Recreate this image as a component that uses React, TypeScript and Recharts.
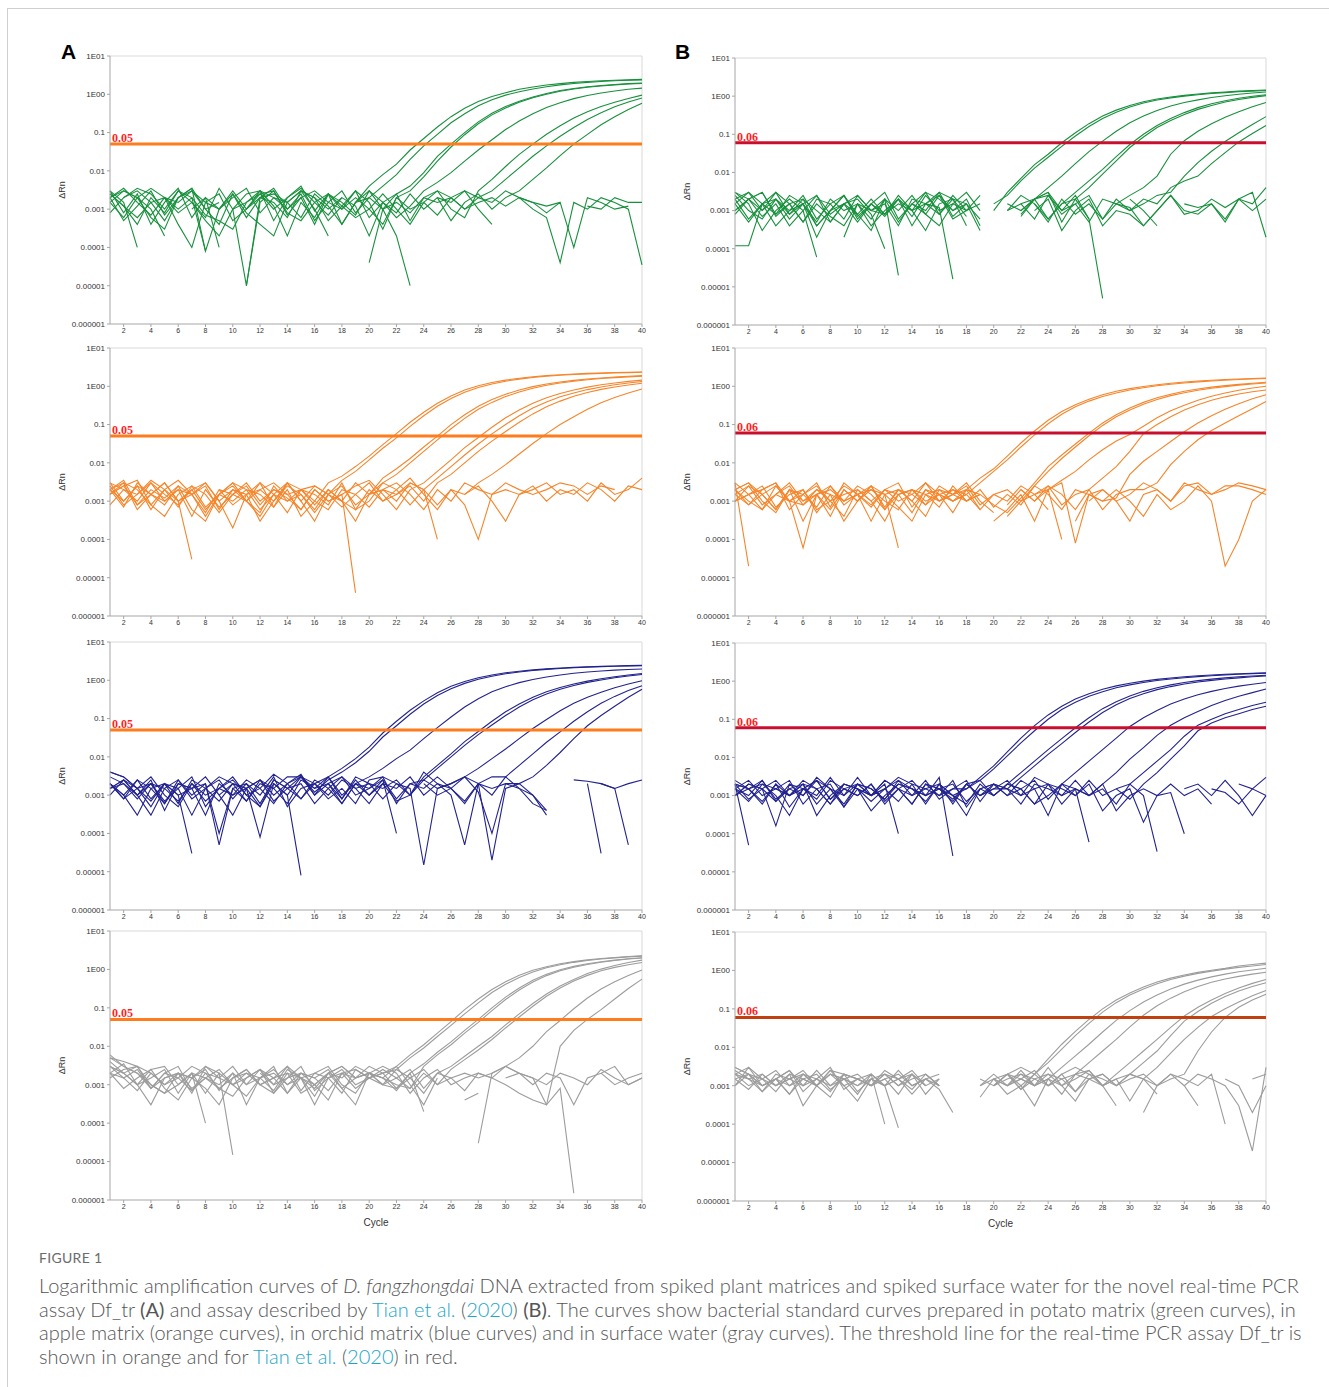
import React from "react";
import { LineChart, Line, XAxis, YAxis, ReferenceLine } from "recharts";

type Curve = (number | null)[];

const cycles = [1, 2, 3, 4, 5, 6, 7, 8, 9, 10, 11, 12, 13, 14, 15, 16, 17, 18, 19, 20, 21, 22, 23, 24, 25, 26, 27, 28, 29, 30, 31, 32, 33, 34, 35, 36, 37, 38, 39, 40];
const xTicks = [2, 4, 6, 8, 10, 12, 14, 16, 18, 20, 22, 24, 26, 28, 30, 32, 34, 36, 38, 40];
const yTicks = [1e-6, 1e-5, 1e-4, 1e-3, 0.01, 0.1, 1, 10];
const yTickLabels = ["0.000001", "0.00001", "0.0001", "0.001", "0.01", "0.1", "1E00", "1E01"];

const thresholdA = 0.05;
const thresholdB = 0.06;

// potato matrix, assay Df_tr
const greenA: Curve[] = [
  [3e-3, 8e-4, 2.5e-3, 4e-4, 1.5e-3, 3.5e-3, 6e-4, 2e-3, 1e-3, 3e-3, 1e-3, 3e-3, 5e-4, 2e-3, 4e-3, 9e-4, 2.5e-3, 4e-4, 1.5e-3, 4e-3, 8e-3, .015, .035, .07, .14, .26, .43, .65, .88, 1.1, 1.35, 1.55, 1.75, 1.9, 2.05, 2.15, 2.25, 2.32, 2.38, 2.45],
  [2e-3, 5e-4, 1.2e-3, 3e-3, 7e-4, 2e-3, 3.5e-3, 1e-3, 4e-4, 2.5e-3, 6e-4, 2e-3, 3.5e-3, 1e-3, 2.5e-3, 5e-4, 1.5e-3, 3e-3, 8e-4, 2e-3, 4e-3, 8e-3, .02, .045, .09, .18, .31, .5, .72, .95, 1.17, 1.38, 1.58, 1.76, 1.92, 2.05, 2.16, 2.25, 2.32, 2.38],
  [2.5e-3, 1.2e-3, 4e-4, 2e-3, 8e-4, 3e-3, 1.5e-3, 6e-4, 3.5e-3, 1e-3, 1e-5, 1.5e-3, 3e-3, 7e-4, 2e-3, 4e-4, 2.5e-3, 1e-3, 3e-3, 6e-4, 1.5e-3, 2.5e-3, 4e-3, 9e-3, .024, .05, .1, .19, .32, .48, .66, .85, 1.05, 1.25, 1.42, 1.57, 1.7, 1.8, 1.9, 1.97],
  [1.5e-3, 3e-3, 2e-3, 6e-4, 3e-4, 2e-3, 3.5e-3, 8e-5, 1e-3, 2.5e-3, 8e-4, 4e-4, 2e-4, 1.5e-3, 3e-3, 2e-3, 5e-4, 1.2e-3, 3e-3, 1.5e-3, 3e-4, 2e-3, 3e-3, 7e-3, .018, .042, .088, .17, .29, .44, .62, .81, 1.0, 1.2, 1.37, 1.52, 1.65, 1.76, 1.85, 1.92],
  [1.5e-3, 6e-4, 2e-3, 3.5e-3, 2e-3, 8e-4, 1.5e-3, 5e-4, 2e-4, 1e-3, 2.5e-3, 3e-3, 1.2e-3, 2e-4, 1.5e-3, 6e-4, 2.5e-3, 1.5e-3, 7e-4, 3e-3, 1.5e-3, 6e-4, 1.2e-3, 3e-3, 5e-3, .009, .018, .035, .065, .12, .2, .31, .45, .6, .77, .93, 1.08, 1.22, 1.35, 1.45],
  [2e-3, 3.5e-3, 1.5e-3, 7e-4, 2e-3, 4e-4, 1e-4, 1.5e-3, 1e-3, 2e-3, 3.5e-3, 8e-4, 2e-3, 1.5e-3, 6e-4, 2.5e-3, 1.2e-3, 4e-4, 1.5e-3, 3e-3, 1e-3, 2.5e-3, 5e-4, 2e-3, 3e-3, 1e-3, 6e-4, 3e-3, 6e-3, .013, .027, .05, .09, .15, .24, .35, .48, .62, .78, .95],
  [8e-4, 2e-3, 3.5e-3, 2.5e-3, 1e-3, 3e-3, 2e-3, 7e-4, 5e-4, 3e-4, 1.5e-3, 2.5e-3, 3e-3, 8e-4, 5e-4, 1.5e-3, 2.5e-3, 1.2e-3, 6e-4, 1e-3, 2.5e-3, 1e-3, 4e-4, 1.5e-3, 7e-4, 2e-3, 3e-3, 2e-3, 3e-3, 6e-3, .012, .024, .045, .08, .135, .22, .33, .47, .63, .8],
  [2.5e-3, 1.2e-3, 6e-4, 1.5e-3, 5e-4, 2e-3, 3e-3, 1.5e-3, 2.5e-3, 5e-4, 1e-3, 2.5e-3, 1e-3, 2e-3, 3.5e-3, 1.5e-3, 7e-4, 2e-3, 1.2e-3, 2e-4, 1.5e-3, 8e-4, 2.5e-3, 1e-3, 2e-3, 5e-4, 1.5e-3, 2.5e-3, 1e-3, 2e-3, 3e-3, 6e-3, .012, .025, .05, .09, .16, .26, .4, .58],
  [3e-3, 1.5e-3, 1e-4, null, 2e-3, 1.5e-3, 3e-3, 1e-3, 1.5e-3, null, 1e-5, 2e-3, 1.5e-3, 6e-4, 3e-3, 2e-3, 1e-3, 2e-3, null, 4e-5, 1e-3, 1.5e-3, 8e-4, 2e-3, 1.5e-3, 2e-3, 1e-3, 1.5e-3, 2e-3, 1.2e-3, 2e-3, 1e-3, 6e-4, 4e-5, 1.5e-3, 1e-3, 2e-3, 1.5e-3, 1e-3, 3.5e-5],
  [2e-3, 3e-3, 2e-3, 1e-3, 2e-4, null, 1e-3, 2e-3, 1e-4, null, 1e-3, 2e-3, 2.5e-3, 1.5e-3, 3e-3, 1e-3, 2e-4, null, 1.5e-3, 2e-3, 1e-3, 2e-4, 1e-5, null, 2e-3, 1.5e-3, 3e-3, 1e-3, 4e-4, null, 2e-3, 1.5e-3, 1.2e-3, 1.5e-3, null, 1.2e-3, 1e-3, 2e-3, 1.5e-3, 1.5e-3],
  [null, 2e-3, 3e-3, 1.5e-3, 2e-3, 1e-3, 2e-3, 8e-5, null, 1e-3, 1.5e-3, 3e-3, 2e-3, 1e-3, 2e-3, 3e-3, 1.5e-3, 1e-3, 2e-3, 1e-3, 4e-4, 2e-3, 1e-3, 1.5e-3, 3e-3, 2e-3, 1e-3, 2e-3, 1.5e-3, 3e-3, 2e-3, 1.5e-3, 8e-4, 1.5e-3, 1e-4, 2e-3, 1.5e-3, 1e-3, 1.2e-3, null],
];

// apple matrix, assay Df_tr
const orangeA: Curve[] = [
  [3e-3, 1e-3, 2.5e-3, 6e-4, 2e-3, 3.5e-3, 1.5e-3, 5e-4, 2e-3, 8e-4, 1.5e-3, 3e-3, 7e-4, 2e-3, 4e-4, 1e-3, 3e-3, 4.5e-3, 8e-3, .015, .03, .058, .115, .21, .36, .56, .8, 1.03, 1.25, 1.45, 1.62, 1.77, 1.9, 2.0, 2.09, 2.17, 2.23, 2.29, 2.33, 2.37],
  [2e-3, 3.5e-3, 8e-4, 2e-3, 1.2e-3, 2.5e-3, 6e-4, 3e-4, 1.5e-3, 3e-3, 1e-3, 5e-4, 2.5e-3, 1e-3, 1.5e-3, 5e-4, 1.5e-3, 3.5e-3, 6e-3, .012, .024, .045, .09, .17, .3, .48, .7, .93, 1.15, 1.36, 1.54, 1.7, 1.83, 1.94, 2.03, 2.11, 2.18, 2.24, 2.28, 2.32],
  [1.5e-3, 2.5e-3, 3.5e-3, 8e-4, 4e-4, 1.5e-3, 2.5e-3, 7e-4, 1.5e-3, 3e-3, 2e-3, 6e-4, 1.5e-3, 3e-3, 1e-3, 3e-4, 1.5e-3, 2.5e-3, 8e-4, 1.5e-3, 4e-3, 7e-3, .013, .026, .05, .1, .18, .3, .45, .62, .8, .98, 1.15, 1.3, 1.43, 1.55, 1.65, 1.75, 1.83, 1.9],
  [2.5e-3, 8e-4, 1.5e-3, 3e-3, 1e-3, 2e-3, 4e-4, 2e-3, 7e-4, 1.5e-3, 1e-3, 3e-3, 1.5e-3, 5e-4, 2e-3, 1.5e-3, 8e-4, 3e-3, 6e-4, 1e-3, 3e-3, 5e-3, .01, .02, .04, .078, .145, .25, .38, .54, .71, .89, 1.06, 1.22, 1.36, 1.48, 1.59, 1.68, 1.76, 1.83],
  [8e-4, 2e-3, 1.5e-3, 3.5e-3, 2e-3, 7e-4, 2.5e-3, 1.5e-3, 5e-4, 1.5e-3, 2.5e-3, 8e-4, 2e-3, 1.2e-3, 6e-4, 2e-3, 1e-3, 1.5e-3, 2.5e-3, 3.5e-3, 1.5e-3, 6e-4, 2e-3, 3e-3, 6e-3, .012, .025, .046, .085, .15, .24, .36, .5, .65, .8, .95, 1.1, 1.22, 1.34, 1.45],
  [2e-3, 7e-4, 3e-3, 1.5e-3, 8e-4, 2.5e-3, 1.5e-3, 3e-3, 1e-3, 2e-3, 1.5e-3, 3e-4, 1e-3, 2.5e-3, 1.5e-3, 6e-4, 2e-3, 1e-3, 3e-3, 1.5e-3, 3e-3, 2e-3, 8e-4, 2e-3, 4e-3, 8e-3, .016, .031, .057, .1, .17, .27, .39, .53, .67, .82, .96, 1.1, 1.22, 1.33],
  [1.5e-3, 2.5e-3, 8e-4, 1.5e-3, 3e-3, 1e-3, 2e-3, 6e-4, 1.5e-3, 1e-3, 2e-3, 1.5e-3, 7e-4, 3e-3, 1e-3, 2.5e-3, 1.5e-3, 1e-3, 6e-4, 2e-3, 1e-3, 1.5e-3, 2.5e-3, 1e-3, 3e-3, 5e-3, .01, .02, .037, .066, .115, .19, .29, .41, .55, .69, .83, .96, 1.08, 1.2],
  [2e-3, 3e-3, 2e-3, 8e-4, 2e-3, 1e-3, 1.5e-3, 2.5e-3, 6e-4, 2e-3, 1e-3, 2e-3, 3e-3, 1.5e-3, 2e-3, 1e-3, 6e-4, 2e-3, 1.5e-3, 7e-4, 2e-3, 1.5e-3, 3e-3, 2e-3, 8e-4, 2e-3, 1.5e-3, 3e-3, 5e-3, .009, .017, .032, .058, .1, .16, .25, .37, .51, .67, .85],
  [2e-3, 1e-3, 2.5e-3, 1.5e-3, 3e-3, 1e-3, 3e-5, null, 2e-3, 1.5e-3, 3e-3, 1e-3, 2e-3, 1.5e-3, 6e-4, 2e-3, 1e-3, 1.5e-3, 4e-6, null, 2e-3, 3e-3, 1.5e-3, 6e-4, 2e-3, 1e-3, 3e-3, 2e-3, 1.5e-3, 3e-3, 2e-3, 1.5e-3, 2e-3, 3e-3, 2.5e-3, 1.5e-3, 2.5e-3, 2e-3, null, null],
  [3e-3, 2e-3, 1e-3, 3e-3, 1.5e-3, 8e-4, 2e-3, 3e-3, 1e-3, 2e-4, 1.5e-3, 2e-3, 1e-3, 3e-3, 2e-3, 8e-4, 2e-3, 1e-3, 3e-4, 1.5e-3, 2e-3, 1e-3, 3e-3, 2e-3, 1e-4, null, 1.5e-3, 2.5e-3, 1e-3, 3e-4, 1.5e-3, 2e-3, 3e-3, 1.5e-3, 2e-3, 1e-3, 3e-3, 1.5e-3, 2e-3, 4e-3],
  [1.5e-3, 3e-3, 6e-4, 1.5e-3, 1e-3, 2e-3, 1.5e-3, 4e-4, 1.5e-3, 2.5e-3, 1e-3, 4e-4, 1.5e-3, 1e-3, 2e-3, 2.5e-3, 1.5e-3, 7e-4, 1.5e-3, 3e-3, 1e-3, 2e-3, 4e-3, 1.5e-3, 6e-4, 2e-3, 8e-4, 1e-4, 1.5e-3, 2e-3, 1.5e-3, 2.5e-3, 1e-3, 2e-3, 1.5e-3, 3e-3, 2e-3, 1e-3, 2.5e-3, 2e-3],
];

// orchid matrix, assay Df_tr
const blueA: Curve[] = [
  [4e-3, 3e-3, 1.5e-3, 7e-4, 2e-3, 1.5e-3, 3e-4, 1.5e-3, 2.5e-3, 8e-4, 2e-3, 6e-4, 2.5e-3, 1.5e-3, 3e-3, 1e-3, 3e-3, 5e-3, 9e-3, .018, .042, .085, .165, .29, .47, .7, .93, 1.16, 1.38, 1.57, 1.73, 1.87, 1.99, 2.09, 2.18, 2.25, 2.31, 2.37, 2.41, 2.45],
  [3e-3, 2e-3, 8e-4, 2e-3, 6e-4, 2.5e-3, 1e-3, 2e-3, 1e-4, 1.5e-3, 7e-4, 2.5e-3, 1.5e-3, 3e-3, 3e-3, 1.2e-3, 2.5e-3, 4e-3, 7e-3, .014, .033, .065, .13, .24, .4, .6, .83, 1.06, 1.28, 1.48, 1.65, 1.8, 1.93, 2.04, 2.13, 2.21, 2.27, 2.33, 2.38, 2.42],
  [2e-3, 8e-4, 1.5e-3, 3e-3, 1e-3, 5e-4, 2e-3, 7e-4, 1.5e-3, 2.5e-3, 1e-3, 1.5e-3, 3.5e-3, 2e-3, 8e-4, 2.5e-3, 1.5e-3, 6e-4, 2e-3, 3e-3, 5e-3, 9e-3, .015, .03, .058, .11, .2, .33, .5, .68, .87, 1.05, 1.22, 1.38, 1.52, 1.64, 1.75, 1.84, 1.92, 1.98],
  [1.5e-3, 2.5e-3, 1e-3, 3e-4, 1.5e-3, 2.5e-3, 8e-4, 1.5e-3, 3e-3, 2e-3, 7e-4, 2e-3, 1.5e-3, 6e-4, 2.5e-3, 1.5e-3, 3e-3, 8e-4, 3e-3, 2e-3, 1.5e-3, 2.5e-3, 1e-3, 3e-3, 6e-3, .012, .025, .046, .085, .15, .24, .36, .5, .65, .8, .95, 1.1, 1.24, 1.37, 1.5],
  [2e-3, 1e-3, 2.5e-3, 8e-4, 2e-3, 6e-4, 2.5e-3, 1.5e-3, 7e-4, 2e-3, 1.5e-3, 5e-4, 2e-3, 1e-3, 3e-3, 2e-3, 8e-4, 1.5e-3, 6e-4, 2.5e-3, 3e-3, 6e-4, 2e-3, 2.5e-3, 5e-3, .01, .02, .038, .068, .12, .2, .31, .44, .58, .73, .88, 1.02, 1.16, 1.29, 1.42],
  [1e-3, 2.5e-3, 1.5e-3, 2e-3, 7e-4, 1.5e-3, 3e-3, 5e-4, 1.5e-3, 1e-3, 2.5e-3, 1.5e-3, 6e-4, 2e-3, 3.5e-3, 1e-3, 2e-3, 8e-4, 2.5e-3, 1e-3, 2e-3, 7e-4, 1e-3, 2.5e-3, 1.5e-3, 2e-3, 3e-3, 5e-3, 9e-3, .016, .03, .055, .095, .16, .25, .36, .49, .64, .8, .97],
  [2e-3, 8e-4, 2.5e-3, 1.5e-3, 6e-4, 2e-3, 1.5e-3, 3e-3, 1e-3, 3e-4, 1.5e-3, 2.5e-3, 7e-4, 1.5e-3, 2e-3, 6e-4, 1.5e-3, 3e-3, 1e-3, 1.5e-3, 2.5e-3, 8e-4, 2e-3, 1.5e-3, 3e-3, 1.5e-3, 6e-4, 2e-3, 3e-3, 3e-3, 6e-3, .012, .024, .045, .085, .15, .25, .38, .54, .72],
  [1.5e-3, 2.5e-3, 1e-3, 2e-3, 1.5e-3, 7e-4, 2e-3, 1e-3, 1.5e-3, 3e-3, 1e-3, 5e-4, 2.5e-3, 1.5e-3, 8e-4, 2e-3, 1e-3, 2.5e-3, 1.5e-3, 6e-4, 2e-3, 1.5e-3, 3e-3, 1e-3, 2e-3, 1.5e-3, 7e-4, 2e-3, 1.5e-3, 2e-3, 2e-3, 3e-3, 6e-3, .013, .03, .065, .12, .21, .36, .58],
  [4e-3, 3e-3, 1.5e-3, 5e-4, 2e-3, 1e-3, 1.5e-3, 3e-4, 2e-3, 1e-3, 1.5e-3, 8e-5, 2e-3, 1e-3, 8e-6, null, 2e-3, 3e-3, 1.5e-3, 2e-3, 8e-4, 2e-3, 1.5e-3, 1.5e-5, 1.5e-3, 2e-3, 3e-3, 2e-3, 2e-5, 1.5e-3, 2e-3, 1e-3, 4e-4, null, null, 2e-3, 3e-5, null, 2.5e-3, null],
  [2e-3, 1e-3, 3e-4, 1.5e-3, 2e-3, 1e-3, 3e-5, null, 1e-3, 2e-3, 1.5e-3, 2.5e-3, 1e-3, 2e-3, 3e-3, 1.5e-3, 2e-3, 6e-4, 2e-3, 1e-3, 2.5e-3, 1e-4, null, 2e-3, 1e-3, 1.5e-3, 3e-3, 1.2e-3, 1e-4, 2e-3, 1.5e-3, 6e-4, 4e-4, null, 2.5e-3, 2.3e-3, 2e-3, 1.5e-3, 2e-3, 2.5e-3],
  [1.5e-3, 2e-3, 1e-3, 2.5e-3, 4e-4, 2e-3, 1.5e-3, 2e-3, 5e-5, 1.5e-3, 2e-3, 1e-3, 3e-3, 5e-4, 1.5e-3, 2e-3, 3e-3, 1e-3, 2e-3, 1.5e-3, 3e-3, 2e-3, 1e-3, 4e-3, 2e-3, 1e-3, 5e-5, 2e-3, 1e-3, 3e-3, 1.5e-3, 1e-3, 3e-4, null, null, null, 2e-3, 1.5e-3, 5e-5, null],
];

// surface water, assay Df_tr
const grayA: Curve[] = [
  [5e-3, 3e-3, 2e-3, 8e-4, 2e-3, 3e-3, 7e-4, 1.5e-3, 2.5e-3, 1e-3, 1.5e-3, 2.5e-3, 6e-4, 2e-3, 1.5e-3, 8e-4, 2e-3, 3e-3, 1.5e-3, 2e-3, 1.5e-3, 3e-3, 6e-3, .011, .022, .044, .09, .17, .3, .48, .71, .95, 1.18, 1.4, 1.6, 1.77, 1.92, 2.05, 2.16, 2.25],
  [4e-3, 2e-3, 3e-3, 1e-3, 6e-4, 2e-3, 1.5e-3, 8e-4, 3e-4, 1.5e-3, 2.5e-3, 1e-3, 1.5e-3, 3e-3, 7e-4, 2e-3, 1.5e-3, 6e-4, 2.5e-3, 1.5e-3, 2e-3, 2.5e-3, 5e-3, 9e-3, .018, .035, .07, .135, .25, .41, .62, .86, 1.1, 1.32, 1.53, 1.71, 1.87, 2.0, 2.12, 2.22],
  [3e-3, 2e-3, 1e-3, 2.5e-3, 8e-4, 4e-4, 1.5e-3, 2.5e-3, 7e-4, 2e-3, 1e-3, 1.5e-3, 3e-3, 6e-4, 1.5e-3, 2e-3, 3e-3, 1e-3, 6e-4, 2e-3, 1.5e-3, 7e-4, 2e-3, 3.5e-3, 7e-3, .013, .026, .05, .1, .19, .33, .52, .75, .98, 1.2, 1.4, 1.58, 1.75, 1.9, 2.02],
  [2e-3, 3.5e-3, 1e-3, 1.5e-3, 2.5e-3, 6e-4, 2e-3, 1.5e-3, 8e-4, 5e-4, 1.5e-3, 2.5e-3, 1e-3, 1.5e-3, 3e-3, 7e-4, 1.5e-3, 2.5e-3, 1e-3, 1.5e-3, 2.5e-3, 1.5e-3, 8e-4, 3e-3, 6e-3, .011, .022, .042, .085, .165, .29, .47, .69, .92, 1.14, 1.35, 1.54, 1.71, 1.86, 1.99],
  [3e-3, 1.5e-3, 2.5e-3, 8e-4, 1.5e-3, 2e-3, 6e-4, 3e-3, 1.5e-3, 1e-3, 2e-3, 1.5e-3, 7e-4, 2.5e-3, 1.5e-3, 3e-4, 1.5e-3, 2e-3, 8e-4, 1.5e-3, 1e-3, 2.5e-3, 1.5e-3, 6e-4, 2e-3, 3e-3, 5.5e-3, .01, .018, .036, .07, .13, .23, .37, .55, .78, 1.02, 1.27, 1.52, 1.75],
  [2e-3, 8e-4, 1.5e-3, 2.5e-3, 3e-3, 1e-3, 2e-3, 6e-4, 2e-3, 1e-3, 5e-4, 1.5e-3, 2.5e-3, 1e-3, 2e-3, 1.5e-3, 7e-4, 2e-3, 1.5e-3, 3e-3, 2e-3, 8e-4, 1.5e-3, 2.5e-3, 1e-3, 2.5e-3, 4.5e-3, 8e-3, .015, .03, .058, .11, .2, .33, .5, .7, .92, 1.13, 1.33, 1.52],
  [1.5e-3, 2.5e-3, 3e-3, 8e-4, 2e-3, 1.5e-3, 7e-4, 2e-3, 1.5e-3, 3e-3, 1e-3, 2.5e-3, 1.5e-3, 6e-4, 2e-3, 1.5e-3, 2.5e-3, 8e-4, 1.5e-3, 2e-3, 3e-3, 2e-3, 6e-4, 1.5e-3, 2.5e-3, 1e-3, 1.5e-3, 2e-3, 1.5e-3, 3e-3, 5e-3, .01, .024, .047, .095, .18, .31, .48, .7, .97],
  [2e-3, 1.5e-3, 7e-4, 2e-3, 1e-3, 1.5e-3, 3e-3, 2e-3, 8e-4, 1.5e-3, 2.5e-3, 1e-3, 1.5e-3, 2e-3, 6e-4, 1e-3, 2e-3, 1.5e-3, 3e-3, 2e-3, 1e-3, 1.5e-3, 2.5e-3, 8e-4, 2e-3, 1.5e-3, 7e-4, 2e-3, 1.5e-3, 1e-3, 6e-4, 4e-4, 3e-4, .01, .026, .05, .09, .17, .32, .56],
  [5e-3, 4e-3, 3e-3, 2e-3, 1e-3, 2e-3, 1.5e-3, 3e-3, 2e-3, 1.5e-5, null, 2e-3, 1e-3, 3e-3, 1.5e-3, 1e-3, 2e-3, 8e-4, 3e-4, 2e-3, 1.5e-3, 1e-3, 8e-4, 2e-3, 1e-3, 1.5e-3, null, 3e-5, 2e-3, 3e-3, 2e-3, 1.5e-3, 3e-4, 8e-4, 1.5e-6, null, 2e-3, 1e-3, 1.5e-3, 2e-3],
  [3e-3, 2e-3, 1e-3, 3e-4, 1.5e-3, 2e-3, 8e-4, 1.5e-3, 1e-3, 2e-3, 3e-4, 1.5e-3, 2e-3, 1e-3, 1.5e-3, 5e-4, 2e-3, 3e-3, 1.5e-3, 2e-3, 1e-3, 8e-4, 2e-3, 2e-4, null, 1.5e-3, 2e-3, 1.5e-3, 2e-3, 3e-3, 2e-3, 1.5e-3, 1e-3, 2e-3, 1.5e-3, 1e-3, 2.5e-3, 1.5e-3, 1e-3, 1.5e-3],
  [6e-3, 3e-3, 2e-3, 1e-3, 6e-4, 1e-3, 2e-3, 1e-4, null, 1.5e-3, 2e-3, 1e-3, 6e-4, 1.5e-3, 2e-3, 1e-3, 4e-4, 2e-3, 2.5e-3, 1.5e-3, 2e-3, 3e-3, 1e-3, 3e-4, 1.5e-3, null, 4e-4, 6e-4, null, 1.5e-3, 2e-3, 1e-3, 2e-3, 1.5e-3, 3e-4, 1.5e-3, 2e-3, 3e-3, 1e-3, 1.5e-3],
];

// potato matrix, Tian et al. (2020)
const greenB: Curve[] = [
  [3e-3, 2e-3, 7e-4, 1.5e-3, 4e-4, 1e-3, 2.5e-3, 5e-4, 1.5e-3, 8e-4, 2e-3, 8e-4, 2e-3, 4e-4, 1.5e-3, 3e-3, 7e-4, 1.5e-3, null, 1e-3, 3e-3, 7e-3, .016, .03, .06, .11, .19, .3, .43, .57, .71, .84, .95, 1.05, 1.14, 1.22, 1.29, 1.35, 1.4, 1.45],
  [2e-3, 3e-3, 1.5e-3, 4e-4, 1e-3, 2.5e-3, 6e-4, 1.5e-3, 2.5e-3, 8e-4, 3e-4, 2e-3, 5e-4, 1.5e-3, 3e-3, 8e-4, 2e-3, 4e-4, null, 1.5e-3, 2.5e-3, 6e-3, .013, .025, .048, .09, .16, .26, .38, .52, .66, .79, .9, 1.0, 1.09, 1.17, 1.24, 1.3, 1.35, 1.4],
  [1.5e-3, 5e-4, 1.5e-3, 3e-3, 8e-4, 2e-3, 4e-4, 1e-3, 2.5e-3, 6e-4, 1.5e-3, 8e-4, 2.5e-3, 1e-3, 3e-4, 1.5e-3, 2e-3, 7e-4, null, null, 1e-3, 1.5e-3, 2e-3, 4e-3, 8e-3, .017, .035, .066, .12, .2, .3, .42, .55, .68, .8, .92, 1.02, 1.12, 1.21, 1.29],
  [2.5e-3, 1e-3, 6e-4, 2e-3, 8e-4, 1.5e-3, 4e-4, 1e-3, 2.5e-3, 7e-4, 1.5e-3, 3e-3, 6e-4, 1.5e-3, 8e-4, 2.5e-3, 1e-3, 1.5e-3, 6e-4, null, null, 8e-4, 2e-3, 6e-4, 1.5e-3, 3e-3, 6e-3, .012, .026, .054, .1, .17, .26, .37, .5, .63, .76, .88, .99, 1.09],
  [8e-4, 2e-3, 1e-3, 3e-3, 1.5e-3, 5e-4, 1.5e-3, 7e-4, 4e-4, 1.5e-3, 6e-4, 2e-3, 1e-3, 2.5e-3, 8e-4, 4e-4, 1.5e-3, 1e-3, 2.5e-3, null, null, null, 1.5e-3, 6e-4, 1.5e-3, 2e-3, 4e-3, 9e-3, .02, .045, .085, .15, .23, .33, .45, .57, .7, .82, .93, 1.03],
  [2e-3, 6e-4, 1.5e-3, 8e-4, 2.5e-3, 1.5e-3, 5e-4, 2e-3, 1e-3, 1.5e-3, 4e-4, 1e-3, 2e-3, 7e-4, 2.5e-3, 1e-3, 1.5e-3, 3e-3, 1e-3, null, null, 1.5e-3, 6e-4, 2.5e-3, 1e-3, 1.5e-3, 5e-4, 2e-3, 1.5e-3, 2.5e-3, 4e-3, 8e-3, .03, .068, .12, .19, .28, .39, .53, .68],
  [1.5e-3, 3e-3, 1e-3, 2e-3, 6e-4, 1.5e-3, 2.5e-3, 8e-4, 1.5e-3, 5e-4, 1.5e-3, 7e-4, 2e-3, 1e-3, 1.5e-3, 2.5e-3, 6e-4, 1e-3, null, null, 1e-3, 2.5e-3, 1.5e-3, 5e-4, 2e-3, 8e-4, 1.5e-3, 6e-4, 2e-3, 1e-3, 1.5e-3, 2.5e-3, 3e-3, 8e-3, .018, .036, .065, .11, .18, .29],
  [1e-3, 2e-3, 3e-3, 7e-4, 1.5e-3, 5e-4, 2e-3, 1.5e-3, 6e-4, 2.5e-3, 1e-3, 1.5e-3, 4e-4, 2e-3, 1.5e-3, 8e-4, 2.5e-3, 1e-3, 1.5e-3, null, null, 1e-3, 2e-3, 2.5e-3, 8e-4, 1.5e-3, 2.5e-3, 6e-4, 1.5e-3, 1e-3, 2e-3, 1.5e-3, 4e-3, 6e-3, 8e-3, .017, .033, .063, .105, .17],
  [3e-3, 1.5e-3, 3e-4, 1e-3, 2e-3, 1e-3, 6e-5, null, 2e-4, 1.5e-3, 1e-3, 2e-3, 2e-5, null, 1.5e-3, 1.2e-3, 1.6e-5, null, null, null, 1.5e-3, 1e-3, 2e-3, 3e-3, 5e-4, 2e-3, 6e-4, 5e-6, null, 2e-3, 1e-3, 4e-4, null, 1.5e-3, 1.2e-3, 1.5e-3, 6e-4, 2e-3, 1.5e-3, 4e-3],
  [1e-3, 2e-3, 3e-3, 8e-4, 1.5e-3, 2e-3, 1e-3, 5e-4, 1.5e-3, 2.5e-3, 1e-3, 8e-4, 1.5e-3, 1e-3, 3e-3, 2e-3, 1e-3, 2e-3, 4e-4, null, null, 7e-4, 2e-3, 3e-3, 1e-3, 2.5e-3, 6e-4, null, 1.5e-3, 1.2e-3, 4e-4, 1e-3, 2.5e-3, 1e-3, 8e-4, 1.5e-3, 5e-4, 2e-3, 1e-3, 2e-3],
  [1.2e-4, 1.2e-4, 1.5e-3, 2e-3, 1e-3, 1.5e-3, 2e-4, 1e-3, 1.5e-3, 2e-3, 8e-4, 1e-4, null, 1.5e-3, 1e-3, 3e-3, 2e-3, 1.5e-3, 3e-4, null, null, null, 1e-3, 2e-3, 3e-4, 1e-3, 2e-3, 4e-4, 1e-3, 8e-4, 4e-4, 1e-3, 2.5e-3, 8e-4, 1e-3, 2e-3, 1.2e-3, 2e-3, 3e-3, 2e-4],
];

// apple matrix, Tian et al. (2020)
const orangeB: Curve[] = [
  [3e-3, 1.5e-3, 6e-4, 1.5e-3, 2.5e-3, 8e-4, 1.5e-3, 4e-4, 2e-3, 1e-3, 2.5e-3, 7e-4, 2e-3, 1e-3, 3e-3, 1.5e-3, 1e-3, 2e-3, 4e-3, 7e-3, .015, .033, .068, .13, .22, .33, .46, .6, .74, .87, .99, 1.1, 1.2, 1.29, 1.37, 1.44, 1.5, 1.55, 1.6, 1.64],
  [2e-3, 3e-3, 1e-3, 5e-4, 2e-3, 1.5e-3, 7e-4, 2.5e-3, 1e-3, 1.5e-3, 2.5e-3, 6e-4, 1.5e-3, 2e-3, 8e-4, 1.5e-3, 1e-3, 1.5e-3, 3e-3, 6e-3, .012, .026, .054, .105, .185, .29, .41, .54, .67, .8, .92, 1.03, 1.13, 1.22, 1.3, 1.37, 1.44, 1.5, 1.55, 1.6],
  [1.5e-3, 8e-4, 2e-3, 3e-3, 6e-4, 1.5e-3, 2.5e-3, 1e-3, 4e-4, 2e-3, 1e-3, 2e-3, 3e-3, 7e-4, 2e-3, 1.5e-3, 5e-4, 2e-3, 1.5e-3, 8e-4, 5e-4, 1.2e-3, 3e-3, 8e-3, .016, .031, .06, .11, .18, .27, .38, .5, .62, .74, .85, .95, 1.04, 1.12, 1.2, 1.28],
  [1e-3, 2.5e-3, 1.5e-3, 6e-4, 2e-3, 3e-4, 1.5e-3, 2.5e-3, 8e-4, 1.5e-3, 2e-3, 1e-3, 6e-4, 2e-3, 1.5e-3, 7e-4, 2.5e-3, 1e-3, 1.5e-3, null, 4e-4, 1e-3, 2.5e-3, 6e-3, .013, .026, .051, .095, .16, .24, .34, .45, .57, .68, .79, .89, .98, 1.07, 1.15, 1.22],
  [2e-3, 1e-3, 6e-4, 2.5e-3, 1e-3, 1.5e-3, 3e-3, 7e-4, 3e-3, 1.5e-3, 8e-4, 2e-3, 1.5e-3, 5e-4, 2e-3, 1e-3, 1.5e-3, 2.5e-3, 8e-4, 1.5e-3, 1e-3, 2.5e-3, 1.5e-3, 2e-3, 3.5e-3, 6e-3, .012, .022, .037, .055, .09, .15, .23, .32, .43, .55, .67, .79, .9, 1.0],
  [1.5e-3, 2.5e-3, 8e-4, 1.5e-3, 3e-3, 1e-3, 1.5e-3, 6e-4, 2e-3, 1e-3, 2.5e-3, 1.5e-3, 7e-4, 3e-4, 1.5e-3, 1e-3, 2e-3, 1.5e-3, 6e-4, null, 8e-4, 2e-3, 1e-3, 2.5e-3, 1.5e-3, 6e-4, 2e-3, 4e-3, 8e-3, .02, .058, .1, .16, .24, .33, .43, .53, .63, .72, .8],
  [1e-3, 1.5e-3, 2.5e-3, 7e-4, 1.5e-3, 2e-3, 5e-4, 1.5e-3, 1e-3, 2.5e-3, 1.5e-3, 6e-4, 2e-3, 1.5e-3, 8e-4, 2.5e-3, 1.5e-3, 1e-3, 2e-3, 7e-4, 1.5e-3, 8e-4, 2.5e-3, 1.5e-3, 6e-4, 2e-3, 1.5e-3, 1e-3, 1.2e-3, 5e-3, .011, .02, .036, .065, .11, .17, .25, .35, .47, .6],
  [2e-3, 8e-4, 1.5e-3, 2.5e-3, 1e-3, 2e-3, 6e-4, 1e-3, 2.5e-3, 1.5e-3, 7e-4, 2e-3, 1e-3, 1.5e-3, 3e-3, 1e-3, 1.5e-3, 2e-3, 6e-4, 1.5e-3, 2e-3, 1e-3, 1.5e-3, 2.5e-3, 8e-4, 1.5e-3, 2e-3, 6e-4, 1.5e-3, 2e-3, 2e-3, 3e-3, 9e-3, .02, .04, .07, .11, .17, .26, .4],
  [3e-3, 2e-5, null, 1.5e-3, 1e-3, 6e-5, 1.5e-3, 2e-3, 1e-3, 1.5e-3, 3e-4, 1.5e-3, 2e-3, 1e-3, 4e-4, 2e-3, 1.5e-3, 3e-3, 1e-3, 5e-4, null, 2e-3, 1e-3, 2e-3, 3e-3, 8e-5, 1.5e-3, 2e-3, 1e-3, 3e-4, 1.5e-3, 2e-3, 1e-3, 3e-3, 2e-3, 1.5e-3, 2.5e-3, 2.5e-3, 2e-3, 1.5e-3],
  [2e-3, 3e-3, 1.5e-3, 6e-4, 2e-3, 1e-3, 2e-3, 1.5e-3, 3e-4, 1e-3, 2e-3, 1.5e-3, 6e-5, null, 1.5e-3, 2e-3, 1e-3, 1.5e-3, null, 3e-4, 6e-4, 1.5e-3, 3e-4, 2e-3, 1e-4, null, 1e-3, 2e-3, 1e-3, 1.5e-3, 3e-3, 2e-3, 1e-3, 2.5e-3, 3e-3, 1.5e-3, 2e-3, 3e-3, 2.5e-3, 2e-3],
  [1e-3, 1.5e-3, 2e-3, 3e-3, 1e-3, 8e-4, 2e-3, 1e-3, 1.5e-3, 2e-3, 1e-3, 3e-4, 1.5e-3, 2e-3, 1e-3, 1.5e-3, 2e-3, 1e-3, 1.5e-3, null, null, null, 1.5e-3, 6e-4, null, 3e-4, 1.5e-3, 1e-3, 2e-3, 1e-3, 4e-4, 1.5e-3, 6e-4, 1e-3, 2.5e-3, 1e-3, 2e-5, 1e-4, 1e-3, 2e-3],
];

// orchid matrix, Tian et al. (2020)
const blueB: Curve[] = [
  [2e-3, 1.5e-3, 6e-4, 2e-3, 5e-4, 1.5e-3, 2.5e-3, 8e-4, 1.5e-3, 1e-3, 2e-3, 7e-4, 1.5e-3, 1e-3, 2.5e-3, 8e-4, 1.5e-3, 1.5e-3, 3e-3, 6e-3, .014, .032, .068, .13, .22, .34, .47, .61, .75, .88, 1.0, 1.11, 1.21, 1.3, 1.38, 1.45, 1.51, 1.56, 1.61, 1.65],
  [1.5e-3, 2.5e-3, 1e-3, 1.5e-3, 2.5e-3, 6e-4, 1.5e-3, 2e-3, 5e-4, 1.5e-3, 1e-3, 2.5e-3, 1.5e-3, 6e-4, 2e-3, 1.5e-3, 8e-4, 2e-3, 2.5e-3, 5e-3, .011, .024, .05, .1, .18, .28, .4, .53, .67, .8, .92, 1.04, 1.14, 1.23, 1.31, 1.39, 1.46, 1.52, 1.57, 1.61],
  [1e-3, 1.5e-3, 2.5e-3, 7e-4, 1.5e-3, 1e-3, 3e-3, 1.5e-3, 6e-4, 2e-3, 1.5e-3, 8e-4, 2e-3, 1.5e-3, 7e-4, 2e-3, 1e-3, 1.5e-3, 2.5e-3, 1e-3, 2e-3, 4e-3, 8e-3, .016, .031, .06, .11, .19, .29, .41, .54, .67, .8, .92, 1.03, 1.13, 1.22, 1.3, 1.37, 1.43],
  [2e-3, 8e-4, 1.5e-3, 2.5e-3, 1e-3, 2e-3, 1.5e-3, 6e-4, 2e-3, 1.5e-3, 7e-4, 1.5e-3, 2.5e-3, 1e-3, 1.5e-3, 2e-3, 6e-4, 2e-3, 1e-3, 1.5e-3, 1.5e-3, 3e-3, 6e-3, .012, .023, .045, .085, .15, .24, .35, .47, .6, .72, .84, .95, 1.05, 1.14, 1.22, 1.3, 1.37],
  [1.5e-3, 1e-3, 2.5e-3, 8e-4, 1.5e-3, 2e-3, 6e-4, 1.5e-3, 1e-3, 3e-3, 1e-3, 1.5e-3, 7e-4, 2e-3, 1.5e-3, 1e-3, 2.5e-3, 5e-4, 1.5e-3, 2e-3, 1e-3, 1.5e-3, 2.5e-3, 8e-4, 2e-3, 4e-3, 8e-3, .016, .032, .065, .11, .17, .25, .34, .44, .54, .64, .74, .83, .92],
  [1e-3, 2e-3, 1.5e-3, 7e-4, 2e-3, 1.5e-3, 8e-4, 2.5e-3, 1.5e-3, 1e-3, 2e-3, 6e-4, 1.5e-3, 2.5e-3, 1e-3, 1.5e-3, 7e-4, 2e-3, 1e-3, 1.5e-3, 2.5e-3, 1e-3, 1.5e-3, 2e-3, 6e-4, 1.5e-3, 1e-3, 2e-3, 4e-3, 9e-3, .018, .038, .07, .11, .16, .23, .31, .4, .5, .62],
  [2e-3, 1.5e-3, 7e-4, 2e-3, 1e-3, 1.5e-3, 2.5e-3, 8e-4, 2e-3, 1.5e-3, 1e-3, 2.5e-3, 1.5e-3, 6e-4, 2e-3, 1e-3, 1.5e-3, 2.5e-3, 7e-4, 2e-3, 1.5e-3, 6e-4, 2e-3, 1.5e-3, 1e-3, 2.5e-3, 1e-3, 1.5e-3, 6e-4, 2e-3, 4e-3, 8e-3, .016, .036, .07, .1, .14, .18, .23, .28],
  [1.5e-3, 7e-4, 2e-3, 1.5e-3, 1e-3, 2.5e-3, 1.5e-3, 6e-4, 1.5e-3, 2e-3, 1.5e-3, 8e-4, 2.5e-3, 1.5e-3, 1e-3, 1.5e-3, 2e-3, 7e-4, 1.5e-3, 1e-3, 2e-3, 1.5e-3, 6e-4, 2e-3, 1.5e-3, 1e-3, 2.5e-3, 1e-3, 1.5e-3, 8e-4, 2e-3, 4e-3, 9e-3, .02, .05, .08, .11, .14, .18, .22],
  [2e-3, 5e-5, null, 1.5e-3, 1e-3, 2e-3, 3e-4, 1e-3, 2e-3, 1.5e-3, 4e-4, 1e-3, 2e-3, 1.5e-3, 1e-3, 3e-3, 2.6e-5, null, 1e-3, 2e-3, 1.5e-3, 1e-3, 3e-3, 2e-3, 1e-3, 1.5e-3, 6e-5, null, 1.5e-3, 2e-3, 1e-3, 3.4e-5, null, 1.5e-3, 2e-3, 1e-3, 2.5e-3, 1e-3, 3e-4, 1e-3],
  [1e-3, 2e-3, 1.5e-3, 1.6e-4, 2e-3, 1e-3, 2.5e-3, 1.5e-3, 5e-4, 2e-3, 1e-3, 2e-3, 1e-4, null, 2e-3, 1.5e-3, 1e-3, 3e-4, 1.5e-3, 2e-3, 1e-3, 2.5e-3, 1.5e-3, 3e-4, 2e-3, 1e-3, 2e-3, 4e-4, 1e-3, 1.5e-3, 2e-4, 1e-3, 2e-3, 1e-3, 1.5e-3, 6e-4, null, 2e-3, 1.5e-3, 3e-3],
  [2.5e-3, 1.5e-3, 2e-3, 1e-3, 3e-4, 1.5e-3, 1e-3, 3e-3, 1e-3, 2e-3, 1e-3, 1.5e-3, 3e-3, 2e-3, 6e-4, 2e-3, 1e-3, 6e-4, 2e-3, 1e-3, 2e-3, 1.5e-3, 6e-4, 1e-3, 2e-3, 1.5e-3, 1e-3, 2e-3, 4e-4, 1e-3, 1.5e-3, 1e-3, 1.2e-3, 1e-4, null, 1.5e-3, 1.2e-3, 6e-4, 1.5e-3, 1e-3],
];

// surface water, Tian et al. (2020)
const grayB: Curve[] = [
  [3e-3, 2e-3, 7e-4, 1.5e-3, 2.5e-3, 1e-3, 1.5e-3, 3e-3, 8e-4, 1.5e-3, 1e-3, 2.5e-3, 1.5e-3, 6e-4, 1.5e-3, 1e-3, null, null, null, 1e-3, 2e-3, 8e-4, 2e-3, 5e-3, .012, .026, .053, .1, .17, .26, .37, .5, .63, .76, .89, 1.01, 1.13, 1.3, 1.43, 1.55],
  [2e-3, 3e-3, 1e-3, 1.5e-3, 6e-4, 2e-3, 1e-3, 2.5e-3, 2e-3, 7e-4, 1.5e-3, 1e-3, 2.5e-3, 1e-3, 1.5e-3, null, null, null, 1e-3, 1.5e-3, 6e-4, 1e-3, 2e-3, 4e-3, 9e-3, .02, .042, .082, .145, .23, .33, .45, .58, .71, .84, .96, 1.08, 1.2, 1.31, 1.42],
  [2.5e-3, 1.5e-3, 7e-4, 2e-3, 1.5e-3, 1e-3, 2.5e-3, 1e-3, 1.5e-3, 2e-3, 1e-3, 1.5e-3, 6e-4, 2e-3, 1e-3, 1.5e-3, null, null, null, 1.5e-3, 1e-3, 2.5e-3, 1e-3, 1.5e-3, 3e-3, 6e-3, .012, .025, .05, .09, .15, .23, .33, .44, .56, .68, .8, .92, 1.03, 1.14],
  [1.5e-3, 8e-4, 2e-3, 1e-3, 1.5e-3, 2.5e-3, 1e-3, 2e-3, 1.5e-3, 6e-4, 2e-3, 1e-3, 1.5e-3, 2.5e-3, 1e-3, null, null, null, 1e-3, 2e-3, 1e-3, 1.5e-3, 2.5e-3, 1e-3, 1.5e-3, 2e-3, 4e-3, 8e-3, .016, .034, .068, .12, .19, .28, .38, .49, .6, .7, .8, .9],
  [2e-3, 1.5e-3, 1e-3, 1.5e-3, 2.5e-3, 7e-4, 1.5e-3, 1e-3, 2e-3, 1.5e-3, 1e-3, 2e-3, 1.5e-3, 8e-4, 2e-3, 1e-3, null, null, 1.5e-3, 1e-3, 2e-3, 8e-4, 1.5e-3, 2e-3, 1e-3, 1.5e-3, 2.5e-3, 1e-3, 2e-3, 4e-3, 8e-3, .016, .033, .065, .11, .17, .25, .35, .46, .58],
  [1e-3, 2e-3, 1.5e-3, 7e-4, 2e-3, 1.5e-3, 1e-3, 2.5e-3, 1e-3, 1.5e-3, 2e-3, 1e-3, 1.5e-3, 2e-3, 1e-3, null, null, null, null, 1e-3, 1.5e-3, 2e-3, 1e-3, 1.5e-3, 6e-4, 2e-3, 1.5e-3, 1e-3, 1.5e-3, 2e-3, 4e-3, 8e-3, .02, .048, .085, .14, .21, .29, .38, .48],
  [2e-3, 1e-3, 1.5e-3, 2.5e-3, 1e-3, 1.5e-3, 2e-3, 8e-4, 1.5e-3, 1e-3, 1.5e-3, 2e-3, 1e-3, 1.5e-3, 2e-3, 1e-3, null, null, null, null, 1e-3, 1.5e-3, 1e-3, 2e-3, 1.5e-3, 7e-4, 2e-3, 1.5e-3, 1e-3, 2e-3, 1.5e-3, 3e-3, 7e-3, .016, .033, .063, .1, .15, .22, .3],
  [1.5e-3, 2e-3, 1e-3, 1.5e-3, 1e-3, 2e-3, 1.5e-3, 7e-4, 2e-3, 1.5e-3, 1e-3, 1.5e-3, 2e-3, 1e-3, 1.5e-3, 2e-3, null, null, null, 1.5e-3, 1e-3, 2e-3, 1.5e-3, 1e-3, 2e-3, 7e-4, 1.5e-3, 2e-3, 1e-3, 1.5e-3, 2e-3, 1e-3, 1.5e-3, 2e-3, 8e-3, .025, .06, .11, .17, .24],
  [3e-3, 2e-3, 1e-3, 1.5e-3, 6e-4, 1.5e-3, 1e-3, 2e-3, 1e-3, 4e-4, 1.5e-3, 1e-3, 8e-5, null, 2e-3, 1e-3, null, null, null, 1e-3, 2e-3, 1.5e-3, 1e-3, 3e-3, 1e-3, 4e-4, 1.5e-3, 2e-3, 1e-3, 2e-3, 1.5e-3, 6e-4, null, 1e-3, 2e-3, 1.5e-3, 1e-3, 3e-4, 2e-5, 3e-3],
  [2e-3, 1.5e-3, 2e-3, 1e-3, 2e-3, 3e-4, 1e-3, 2e-3, 1.5e-3, 1e-3, 2e-3, 1e-4, null, 1e-3, 1.5e-3, 8e-4, 2e-4, null, 5e-4, 1.5e-3, 2e-3, 3e-3, 2e-3, 1e-3, 2e-3, 3e-3, 2e-3, 1e-3, 3e-4, null, 2e-4, 1e-3, 2e-3, 1.5e-3, 1e-3, 2e-3, 1e-4, null, 1.5e-3, 2e-3],
  [1e-3, 3e-3, 1.5e-3, 1e-3, 1.5e-3, 2e-3, 1e-3, 5e-4, 2e-3, 1.5e-3, 1e-3, 2e-3, 1e-3, 2e-3, 6e-4, 1.5e-3, null, null, null, null, 2e-3, 1e-3, 3e-4, 1.5e-3, 1e-3, 2e-3, 2.5e-3, 1e-3, 1.5e-3, 4e-4, 1.5e-3, 1e-3, 2e-3, 1e-3, 3e-4, null, 1.5e-3, 1e-3, 2e-4, 1e-3],
];

const GREEN = "#17903c";
const ORANGE = "#f5852a";
const BLUE = "#22228f";
const GRAY = "#9c9c9c";
const LINE_A = "#ff7b1c";
const LINE_B = "#c8102e";
const LINE_B_WATER = "#c2400f";

const tickFont = { fontFamily: "Liberation Sans, Arial, sans-serif", fill: "#333" };

interface PanelProps {
  curves: Curve[];
  color: string;
  threshold: number;
  thresholdColor: string;
  left: number;
  top: number;
  width: number;
  height: number;
  showCycle?: boolean;
}

function Panel({ curves, color, threshold, thresholdColor, left, top, width, height, showCycle }: PanelProps) {
  const data = cycles.map((c, i) => {
    const row: Record<string, number | null> = { cycle: c };
    curves.forEach((curve, k) => {
      const v = curve[i];
      row["s" + k] = v === undefined ? null : v;
    });
    return row;
  });
  const yw = 60;
  const mt = 10;
  const mr = 12;
  const xh = showCycle ? 32 : 20;

  return (
    <div style={{ position: "absolute", left: left - yw, top: top - mt }}>
      <LineChart
        width={width + yw + mr}
        height={height + mt + xh}
        data={data}
        margin={{ top: mt, right: mr, bottom: 0, left: 0 }}
      >
        <XAxis
          dataKey="cycle"
          type="number"
          domain={[1, 40]}
          ticks={xTicks}
          interval={0}
          height={xh}
          stroke="#a6a6a6"
          tickSize={3}
          tickMargin={1}
          tick={{ ...tickFont, fontSize: 7 }}
          label={showCycle ? { value: "Cycle", position: "insideBottom", offset: 6, fontSize: 10, fill: "#333", fontFamily: "Liberation Sans, Arial, sans-serif" } : undefined}
        />
        <YAxis
          scale="log"
          type="number"
          domain={[1e-6, 10]}
          ticks={yTicks}
          allowDataOverflow
          interval={0}
          width={yw}
          stroke="#a6a6a6"
          tickSize={3}
          tickMargin={2}
          tick={{ ...tickFont, fontSize: 8 }}
          tickFormatter={(v: number) => yTickLabels[yTicks.indexOf(v)] ?? ""}
          label={{ value: "ΔRn", angle: -90, position: "insideLeft", offset: 12, fontSize: 9, fill: "#333", fontFamily: "Liberation Sans, Arial, sans-serif", style: { textAnchor: "middle" } }}
        />
        <ReferenceLine y={10} stroke="#d9d9d9" />
        <ReferenceLine x={40} stroke="#d9d9d9" />
        {curves.map((_, k) => (
          <Line
            key={k}
            dataKey={"s" + k}
            stroke={color}
            strokeWidth={1.1}
            dot={false}
            activeDot={false}
            connectNulls={false}
            isAnimationActive={false}
          />
        ))}
        <ReferenceLine
          y={threshold}
          stroke={thresholdColor}
          strokeWidth={3}
          label={{
            value: threshold.toFixed(2),
            position: "insideBottomLeft",
            offset: 2,
            fill: "#ff1f1f",
            fontSize: 12,
            fontWeight: 700,
            fontFamily: "Liberation Serif, Times New Roman, serif",
          }}
        />
      </LineChart>
    </div>
  );
}

const colA = { left: 110, width: 532 };
const colB = { left: 735, width: 531 };

const panels = [
  { curves: greenA, color: GREEN, col: colA, top: 56, height: 268, thr: thresholdA, thrColor: LINE_A },
  { curves: orangeA, color: ORANGE, col: colA, top: 348, height: 268, thr: thresholdA, thrColor: LINE_A },
  { curves: blueA, color: BLUE, col: colA, top: 642, height: 268, thr: thresholdA, thrColor: LINE_A },
  { curves: grayA, color: GRAY, col: colA, top: 931, height: 269, thr: thresholdA, thrColor: LINE_A, cycle: true },
  { curves: greenB, color: GREEN, col: colB, top: 58, height: 267, thr: thresholdB, thrColor: LINE_B },
  { curves: orangeB, color: ORANGE, col: colB, top: 348, height: 268, thr: thresholdB, thrColor: LINE_B },
  { curves: blueB, color: BLUE, col: colB, top: 643, height: 267, thr: thresholdB, thrColor: LINE_B },
  { curves: grayB, color: GRAY, col: colB, top: 932, height: 269, thr: thresholdB, thrColor: LINE_B_WATER, cycle: true },
];

const link = { color: "#1ba6c9" };

export default function App() {
  return (
    <div style={{ position: "absolute", left: 0, top: 0, width: 1329, height: 1387, background: "#fff", overflow: "hidden" }}>
      <div style={{ position: "absolute", left: 7, top: 8, width: 1330, height: 1390, borderTop: "1px solid #cfcfcf", borderLeft: "1px solid #cfcfcf" }} />
      <div style={{ position: "absolute", left: 61, top: 40, fontFamily: "Liberation Sans, Arial, sans-serif", fontWeight: 700, fontSize: 21 }}>A</div>
      <div style={{ position: "absolute", left: 675, top: 40, fontFamily: "Liberation Sans, Arial, sans-serif", fontWeight: 700, fontSize: 21 }}>B</div>
      {panels.map((p, i) => (
        <Panel
          key={i}
          curves={p.curves}
          color={p.color}
          threshold={p.thr}
          thresholdColor={p.thrColor}
          left={p.col.left}
          top={p.top}
          width={p.col.width}
          height={p.height}
          showCycle={p.cycle}
        />
      ))}
      <div style={{ position: "absolute", left: 39, top: 1249, fontFamily: "Lato, Open Sans, sans-serif", fontSize: 14, color: "#6b6b6b", letterSpacing: 0.3 }}>
        FIGURE 1
      </div>
      <div style={{ position: "absolute", left: 39, top: 1274, width: 1280, fontFamily: "Lato, Open Sans, sans-serif", fontWeight: 300, fontSize: 20, lineHeight: "23.7px", color: "#555", whiteSpace: "nowrap" }}>
        Logarithmic amplification curves of <i>D. fangzhongdai</i> DNA extracted from spiked plant matrices and spiked surface water for the novel real-time PCR
        <br />
        assay Df_tr <b>(A)</b> and assay described by <span style={link}>Tian et al.</span> (<span style={link}>2020</span>) <b>(B)</b>. The curves show bacterial standard curves prepared in potato matrix (green curves), in
        <br />
        apple matrix (orange curves), in orchid matrix (blue curves) and in surface water (gray curves). The threshold line for the real-time PCR assay Df_tr is
        <br />
        shown in orange and for <span style={link}>Tian et al.</span> (<span style={link}>2020</span>) in red.
      </div>
    </div>
  );
}
